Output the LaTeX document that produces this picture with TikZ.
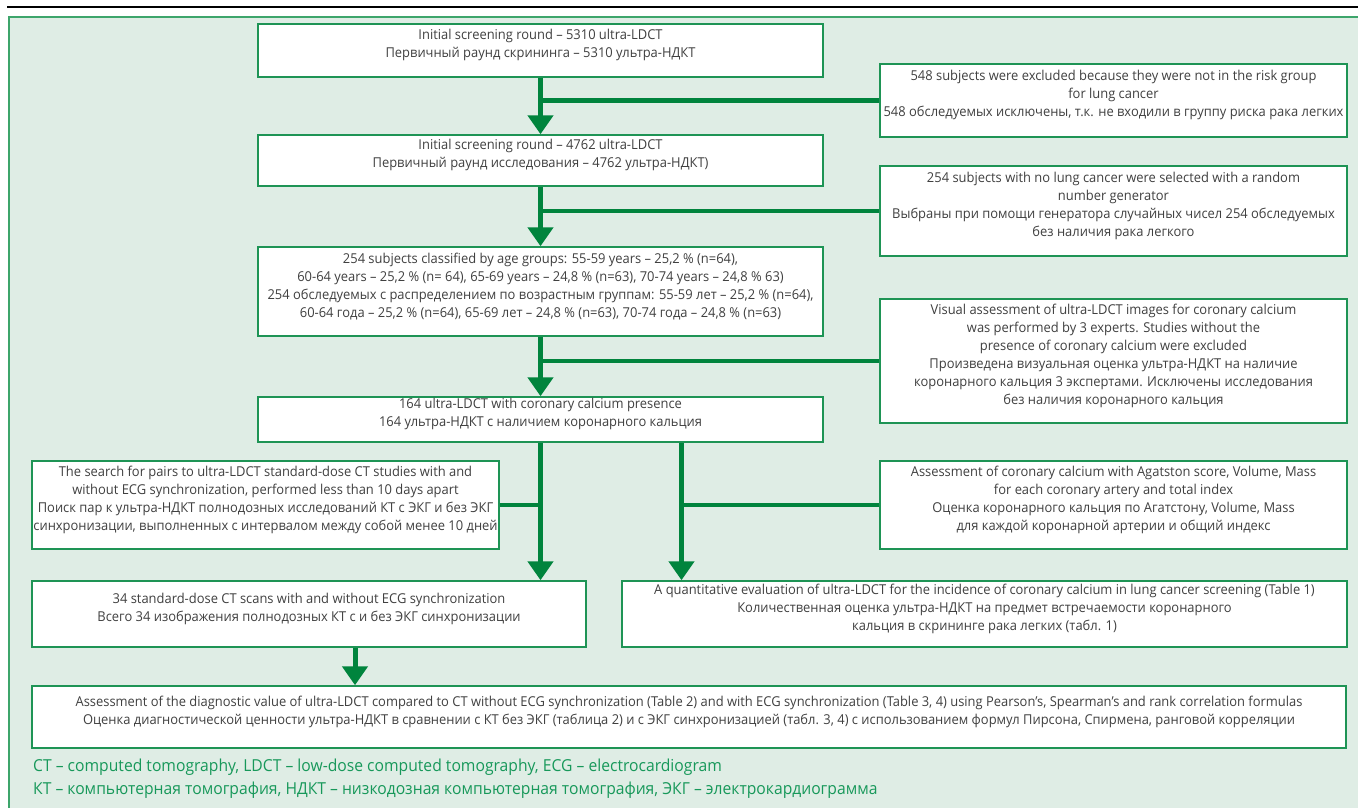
\documentclass[tikz,border=0pt]{standalone}
\usepackage{fontspec}
\setmainfont{Open Sans}[FakeStretch=0.95]
\usetikzlibrary{fit,arrows.meta}
\definecolor{bggreen}{HTML}{DFEDE5}
\definecolor{framegreen}{HTML}{3DA56B}
\definecolor{boxgreen}{HTML}{1E9455}
\definecolor{arrowgreen}{HTML}{00843D}
\definecolor{legendgreen}{HTML}{17985A}
\definecolor{textgray}{HTML}{404040}
\newcommand\boxfont{\fontsize{13.6}{18}\selectfont}
\newcommand\legfont{\fontsize{16.5}{23}\selectfont}
\tikzset{
  box/.style={draw=boxgreen, line width=1.5pt, fill=white, inner sep=0pt,
    align=center, text=textgray, font=\boxfont},
  flow/.style={draw=arrowgreen, line width=5pt, -{Triangle[width=25pt,length=19pt]}},
  branch/.style={draw=arrowgreen, line width=4.5pt},
  legend/.style={anchor=west, inner sep=0pt, text=legendgreen, font=\legfont}
}
\begin{document}
\begin{tikzpicture}[x=1pt,y=-1pt]
\useasboundingbox (0,0) rectangle (1358,808);
\clip (0,0) rectangle (1358,808);
\fill[white] (0,0) rectangle (1358,808);
\draw[black, line width=2pt] (7,7) -- (1370,7);
\draw[framegreen, line width=1.5pt, fill=bggreen] (9,17) rectangle (1380,830);

\node[box, fit={(258,24)(823,77)}] (A) {Initial screening round – 5310 ultra-LDCT\\Первичный раунд скрининга – 5310 ультра-НДКТ};
\node[box, fit={(880,64)(1347,137)}] (B) {548 subjects were excluded because they were not in the risk group\\for lung cancer\\548 обследуемых исключены, т.к. не входили в группу риска рака легких};
\node[box, fit={(258,135)(823,186)}] (C) {Initial screening round – 4762 ultra-LDCT\\Первичный раунд исследования – 4762 ультра-НДКТ)};
\node[box, fit={(880,166)(1347,256)}] (D) {254 subjects with no lung cancer were selected with a random\\number generator\\Выбраны при помощи генератора случайных чисел 254 обследуемых\\без наличия рака легкого};
\node[box, fit={(258,247)(823,336)}] (E) {254 subjects classified by age groups: 55-59 years – 25,2 \% (n=64),\\60-64 years – 25,2 \% (n= 64), 65-69 years – 24,8 \% (n=63), 70-74 years – 24,8 \% 63)\\254 обследуемых с распределением по возрастным группам: 55-59 лет – 25,2 \% (n=64),\\60-64 года – 25,2 \% (n=64), 65-69 лет – 24,8 \% (n=63), 70-74 года – 24,8 \% (n=63)};
\node[box, fit={(880,299)(1347,423)}] (F) {Visual assessment of ultra-LDCT images for coronary calcium\\was performed by 3 experts. Studies without the\\presence of coronary calcium were excluded\\Произведена визуальная оценка ультра-НДКТ на наличие\\коронарного кальция 3 экспертами. Исключены исследования\\без наличия коронарного кальция};
\node[box, fit={(258,397)(823,442)}] (G) {164 ultra-LDCT with coronary calcium presence\\164 ультра-НДКТ с наличием коронарного кальция};
\node[box, fit={(32,461)(499,549)}] (H) {The search for pairs to ultra-LDCT standard-dose CT studies with and\\without ECG synchronization, performed less than 10 days apart\\Поиск пар к ультра-НДКТ полнодозных исследований КТ с ЭКГ и без ЭКГ\\синхронизации, выполненных с интервалом между собой менее 10 дней};
\node[box, fit={(880,461)(1347,549)}] (I) {Assessment of coronary calcium with Agatston score, Volume, Mass\\for each coronary artery and total index\\Оценка коронарного кальция по Агатстону, Volume, Mass\\для каждой коронарной артерии и общий индекс};
\node[box, fit={(32,581)(586,647)}] (J) {34 standard-dose CT scans with and without ECG synchronization\\Всего 34 изображения полнодозных КТ с и без ЭКГ синхронизации};
\node[box, fit={(622,581)(1347,647)}] (K) {A quantitative evaluation of ultra-LDCT for the incidence of coronary calcium in lung cancer screening (Table 1)\\Количественная оценка ультра-НДКТ на предмет встречаемости коронарного\\кальция в скрининге рака легких (табл. 1)};
\node[box, fit={(32,686)(1346,748)}] (L) {Assessment of the diagnostic value of ultra-LDCT compared to CT without ECG synchronization (Table 2) and with ECG synchronization (Table 3, 4) using Pearson’s, Spearman’s and rank correlation formulas\\Оценка диагностической ценности ультра-НДКТ в сравнении с КТ без ЭКГ (таблица 2) и с ЭКГ синхронизацией (табл. 3, 4) с использованием формул Пирсона, Спирмена, ранговой корреляции};

\node[legend] (leg1) at (33,767) {CT – computed tomography, LDCT – low-dose computed tomography, ECG – electrocardiogram};
\node[legend] (leg2) at (33,790) {КТ – компьютерная томография, НДКТ – низкодозная компьютерная томография, ЭКГ – электрокардиограмма};

% connectors
\draw[branch] (A.south |- B.west) -- (B.west);
\draw[flow] (A.south) -- (C.north);
\draw[branch] (C.south |- D.west) -- (D.west);
\draw[flow] (C.south) -- (E.north);
\draw[branch] (E.south |- F.west) -- (F.west);
\draw[flow] (E.south) -- (G.north);
\path (G.south) ++(141,0) coordinate (gk);
\draw[branch] (H.east) -- (H.east -| G.south);
\draw[flow] (G.south) -- (G.south |- J.north);
\draw[branch] (gk |- I.west) -- (I.west);
\draw[flow] (gk) -- (gk |- K.north);
\path (J.south) ++(46,0) coordinate (jl);
\draw[flow] (jl) -- (jl |- L.north);
\end{tikzpicture}
\end{document}
